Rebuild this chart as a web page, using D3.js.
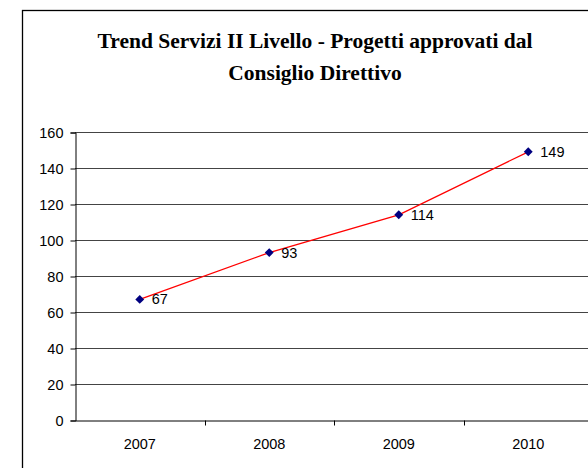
<!DOCTYPE html>
<html>
<head>
<meta charset="utf-8">
<script src="https://cdn.jsdelivr.net/npm/d3@7"></script>
<style>
  body { margin: 0; background: #fff; }
</style>
</head>
<body>
<div class="svg-div"></div>
<script>
const years = ['2007', '2008', '2009', '2010']
const progetti = [67, 93, 114, 149]
const yTicks = [0, 20, 40, 60, 80, 100, 120, 140, 160]
const titleLines = ['Trend Servizi II Livello - Progetti approvati dal', 'Consiglio Direttivo']

const w = 588
const h = 468
const plotLeft = 75
const plotTop = 132
const plotBottom = 420
const plotRight = 593

const svg = d3.select('.svg-div')
    .append('svg')
    .attr('width', w)
    .attr('height', h)

// chart frame
svg.append('rect')
    .attr('x', 22.5)
    .attr('y', 10.5)
    .attr('width', 620)
    .attr('height', 500)
    .attr('fill', 'white')
    .attr('stroke', '#000')
    .attr('stroke-width', 1.3)

svg.selectAll('.title')
    .data(titleLines)
    .enter()
    .append('text')
    .attr('class', 'title')
    .attr('x', 315)
    .attr('y', (d, i) => 48 + i * 32)
    .attr('text-anchor', 'middle')
    .attr('font-family', '"Liberation Serif", "Times New Roman", serif')
    .attr('font-weight', 'bold')
    .attr('font-size', '21.5px')
    .text(d => d)

const xScale = d3.scaleBand()
    .domain(years)
    .range([plotLeft, plotRight])

const yScale = d3.scaleLinear()
    .domain([0, 160])
    .range([plotBottom, plotTop])

// gridlines
svg.append('g')
    .selectAll('line')
    .data(yTicks.filter(d => d > 0))
    .enter()
    .append('line')
    .attr('x1', plotLeft)
    .attr('x2', plotRight)
    .attr('y1', d => Math.round(yScale(d)) + 0.5)
    .attr('y2', d => Math.round(yScale(d)) + 0.5)
    .attr('stroke', '#444')
    .attr('stroke-width', 1)

const yAxis = d3.axisLeft(yScale).tickValues(yTicks).tickSize(5).tickPadding(7)
const xAxis = d3.axisBottom(xScale).tickSize(0).tickPadding(18)

const gy = svg.append('g')
    .attr('id', 'y-axis')
    .attr('transform', 'translate(' + (plotLeft + 0.5) + ',0.5)')
    .call(yAxis)

const gx = svg.append('g')
    .attr('id', 'x-axis')
    .attr('transform', 'translate(0,' + (plotBottom + 0.5) + ')')
    .call(xAxis)

// category boundary ticks
gx.selectAll('.bound')
    .data(years.slice(1).concat(['end']))
    .enter()
    .append('line')
    .attr('class', 'bound')
    .attr('x1', (d, i) => Math.round(plotLeft + (i + 1) * xScale.step()) + 0.5)
    .attr('x2', (d, i) => Math.round(plotLeft + (i + 1) * xScale.step()) + 0.5)
    .attr('y1', 0)
    .attr('y2', 5)
    .attr('stroke', '#000')

svg.selectAll('#x-axis .domain, #y-axis .domain').attr('stroke', '#000')
svg.selectAll('#x-axis text, #y-axis text')
    .attr('font-family', '"Liberation Sans", Arial, sans-serif')
    .attr('font-size', '14.5px')
    .attr('fill', '#000')

const cx = d => xScale(d) + xScale.bandwidth() / 2

const line = d3.line()
    .x((d, i) => cx(years[i]))
    .y(d => yScale(d))

svg.append('path')
    .datum(progetti)
    .attr('d', line)
    .attr('fill', 'none')
    .attr('stroke', '#ff0000')
    .attr('stroke-width', 1.3)

svg.selectAll('.marker')
    .data(progetti)
    .enter()
    .append('path')
    .attr('class', 'marker')
    .attr('d', d3.symbol().type(d3.symbolDiamond2).size(50))
    .attr('transform', (d, i) => 'translate(' + cx(years[i]) + ',' + yScale(d) + ')')
    .attr('fill', '#000080')

svg.selectAll('.label')
    .data(progetti)
    .enter()
    .append('text')
    .attr('class', 'label')
    .attr('x', (d, i) => cx(years[i]) + 12)
    .attr('y', d => yScale(d) + 5)
    .attr('font-family', '"Liberation Sans", Arial, sans-serif')
    .attr('font-size', '14.5px')
    .text(d => d)
</script>
</body>
</html>
